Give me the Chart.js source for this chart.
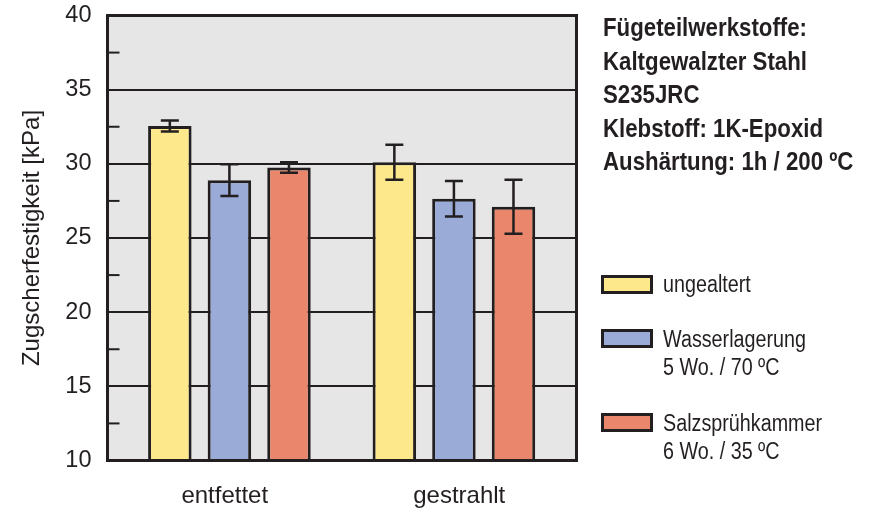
<!DOCTYPE html>
<html>
<head>
<meta charset="utf-8">
<script src="https://cdn.jsdelivr.net/npm/chart.js@4/dist/chart.umd.min.js"></script>
<style>
  body { margin: 0; background: #fff; }
  #wrap { position: relative; width: 871px; height: 511px; font-family: "Liberation Sans", Arial, sans-serif; color: #231f20; }
  #note { position: absolute; left: 603px; top: 11px; font-weight: bold; font-size: 25px; line-height: 33.5px; transform: scaleX(0.89); transform-origin: left top; white-space: nowrap; }
  .item { position: absolute; left: 601px; }
  .box { position: absolute; left: 0; width: 52px; height: 19px; border: 3px solid #231f20; box-sizing: border-box; }
  .txt { position: absolute; left: 62px; font-size: 23.5px; line-height: 28px; transform: scaleX(0.84); transform-origin: left top; white-space: nowrap; }
</style>
</head>
<body>
<div id="wrap">
  <canvas id="chart" width="871" height="511"></canvas>
  <div id="note"></div>
  <div id="legend"></div>
</div>
<script>
// data
const categories = ['entfettet', 'gestrahlt'];
const seriesNames = ['ungealtert', 'Wasserlagerung', 'Salzsprühkammer'];
const seriesNotes = ['', '5 Wo. / 70 ºC', '6 Wo. / 35 ºC'];
const ungealtert = [32.55, 30.1];
const wasserlagerung = [28.9, 27.65];
const salzspruehkammer = [29.75, 27.1];
const errUngealtert = [0.37, 1.18];
const errWasserlagerung = [1.07, 1.2];
const errSalzspruehkammer = [0.35, 1.82];
const noteLines = ['Fügeteilwerkstoffe:', 'Kaltgewalzter Stahl', 'S235JRC', 'Klebstoff: 1K-Epoxid', 'Aushärtung: 1h / 200 ºC'];

const colors = ['#fde98b', '#9aabd8', '#e9866c'];
const dark = '#231f20';
const values = [ungealtert, wasserlagerung, salzspruehkammer];
const errors = [errUngealtert, errWasserlagerung, errSalzspruehkammer];

document.getElementById('note').innerHTML = noteLines.join('<br>');
const legendTops = [270, 325, 409];
const boxTops = [5, 4, 4];
document.getElementById('legend').innerHTML = seriesNames.map((name, k) =>
  '<div class="item" style="top:' + legendTops[k] + 'px">' +
  '<div class="box" style="top:' + boxTops[k] + 'px;background:' + colors[k] + '"></div>' +
  '<div class="txt">' + name + (seriesNotes[k] ? '<br>' + seriesNotes[k] : '') + '</div></div>'
).join('');

const plotBackground = {
  id: 'plotBackground',
  beforeDraw(chart) {
    const { ctx, chartArea: a } = chart;
    ctx.save();
    ctx.fillStyle = '#e6e6e6';
    ctx.fillRect(a.left, a.top, a.right - a.left, a.bottom - a.top);
    ctx.restore();
  }
};

const errorBars = {
  id: 'errorBars',
  afterDatasetsDraw(chart) {
    const { ctx } = chart;
    const y = chart.scales.y;
    ctx.save();
    ctx.strokeStyle = dark;
    ctx.lineWidth = 2.5;
    chart.data.datasets.forEach((ds, k) => {
      chart.getDatasetMeta(k).data.forEach((bar, i) => {
        const v = values[k][i], e = errors[k][i];
        const top = y.getPixelForValue(v + e), bot = y.getPixelForValue(v - e);
        ctx.beginPath();
        ctx.moveTo(bar.x, top); ctx.lineTo(bar.x, bot);
        ctx.moveTo(bar.x - 9, top); ctx.lineTo(bar.x + 9, top);
        ctx.moveTo(bar.x - 9, bot); ctx.lineTo(bar.x + 9, bot);
        ctx.stroke();
      });
    });
    ctx.restore();
  }
};

const frame = {
  id: 'frame',
  afterDatasetsDraw(chart) {
    const { ctx, chartArea: a } = chart;
    const y = chart.scales.y;
    ctx.save();
    ctx.strokeStyle = dark;
    ctx.lineWidth = 2;
    y.ticks.forEach(t => {
      if (t.value % 5 !== 0) {
        const p = y.getPixelForValue(t.value);
        ctx.beginPath(); ctx.moveTo(a.left, p); ctx.lineTo(a.left + 12, p); ctx.stroke();
      }
    });
    ctx.lineWidth = 3;
    ctx.strokeRect(a.left, a.top, a.right - a.left, a.bottom - a.top);
    ctx.restore();
  }
};

new Chart(document.getElementById('chart'), {
  type: 'bar',
  data: {
    labels: categories,
    datasets: seriesNames.map((name, k) => ({
      label: name,
      data: values[k].map((v, i) => ({ x: i, y: v })),
      backgroundColor: colors[k],
      borderColor: dark,
      borderWidth: 3,
      borderSkipped: false,
      xAxisID: 'xb',
      categoryPercentage: 0.796,
      barPercentage: 0.73
    }))
  },
  options: {
    responsive: false,
    animation: false,
    layout: { padding: { top: 15.5, right: 294.5, left: 0, bottom: 0 } },
    plugins: { legend: { display: false }, tooltip: { enabled: false } },
    scales: {
      x: {
        type: 'category',
        offset: true,
        grid: { display: false },
        border: { display: false },
        ticks: { color: dark, font: { family: 'Liberation Sans, Arial', size: 24 }, padding: 13 },
        afterFit(s) { s.height = 50.5; }
      },
      xb: {
        type: 'linear',
        display: false,
        offset: false,
        min: -0.543,
        max: 1.546,
        afterBuildTicks(s) { s.ticks = categories.map((c, i) => ({ value: i })); }
      },
      y: {
        min: 10,
        max: 40,
        ticks: {
          stepSize: 2.5,
          color: dark,
          font: { family: 'Liberation Sans, Arial', size: 23.5 },
          padding: 16,
          callback: v => (v % 5 === 0 ? v : '')
        },
        grid: { color: c => (c.tick && c.tick.value % 5 === 0 ? dark : 'rgba(0,0,0,0)'), lineWidth: 2, drawTicks: false },
        border: { display: false },
        title: {
          display: true,
          text: 'Zugscherfestigkeit [kPa]',
          color: dark,
          font: { family: 'Liberation Sans, Arial', size: 24 },
          padding: { top: 18, bottom: 0 }
        },
        afterFit(s) { s.width = 107.5; s.paddingTop = 0; s.paddingBottom = 0; }
      }
    }
  },
  plugins: [plotBackground, errorBars, frame]
});
</script>
</body>
</html>
